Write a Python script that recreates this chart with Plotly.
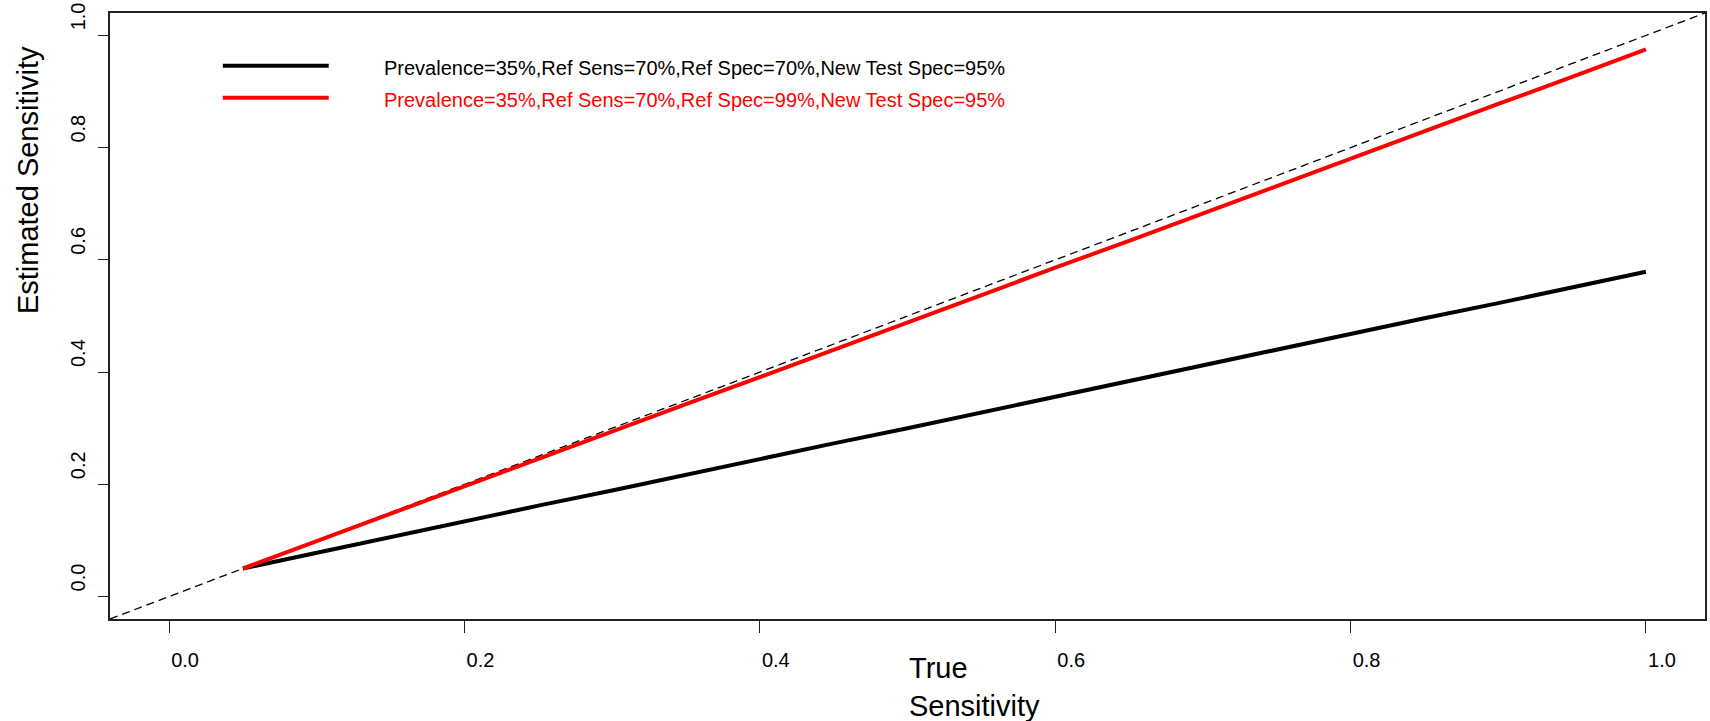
import plotly.graph_objects as go

# ---- data ----
true_sens = [0.05, 0.10, 0.15, 0.20, 0.25, 0.30, 0.35, 0.40, 0.45, 0.50,
             0.55, 0.60, 0.65, 0.70, 0.75, 0.80, 0.85, 0.90, 0.95, 1.00]
est_black = [0.050, 0.078, 0.107, 0.135, 0.162, 0.189, 0.217, 0.246, 0.273, 0.300,
             0.328, 0.356, 0.385, 0.412, 0.440, 0.468, 0.496, 0.523, 0.551, 0.579]
est_red = [0.050, 0.099, 0.148, 0.197, 0.246, 0.294, 0.343, 0.391, 0.440, 0.488,
           0.537, 0.586, 0.634, 0.683, 0.732, 0.781, 0.829, 0.878, 0.926, 0.975]
diag = [-0.04, 1.04]
tick_vals = [0.0, 0.2, 0.4, 0.6, 0.8, 1.0]
tick_text = ["0.0", "0.2", "0.4", "0.6", "0.8", "1.0"]
legend_labels = ["Prevalence=35%,Ref Sens=70%,Ref Spec=70%,New Test Spec=95%",
                 "Prevalence=35%,Ref Sens=70%,Ref Spec=99%,New Test Spec=95%"]
series_colors = ["#000000", "#ff0000"]

W, H = 1710, 721
L, R, T, B = 110, 3, 11, 102
PW, PH = W - L - R, H - T - B

def px(xp):
    return (xp - L) / PW

def py(yp):
    return (H - B - yp) / PH

FONT = "Liberation Sans, Arial, sans-serif"

fig = go.Figure()
fig.add_trace(go.Scatter(x=diag, y=diag, mode="lines",
                         line=dict(color="black", width=1.3, dash="8px,5px"),
                         showlegend=False, hoverinfo="skip"))
fig.add_trace(go.Scatter(x=true_sens, y=est_black, mode="lines",
                         line=dict(color=series_colors[0], width=4),
                         showlegend=False))
fig.add_trace(go.Scatter(x=true_sens, y=est_red, mode="lines",
                         line=dict(color=series_colors[1], width=4),
                         showlegend=False))

# manual legend (R style, no box)
shapes = []
annotations = []
for i, (lab, col) in enumerate(zip(legend_labels, series_colors)):
    yl = 64 + 32 * i
    shapes.append(dict(type="line", xref="paper", yref="paper",
                       x0=px(223), x1=px(329), y0=py(yl), y1=py(yl),
                       line=dict(color=col, width=4)))
    annotations.append(dict(text=lab, xref="paper", yref="paper",
                            x=px(382), y=py(yl + 2), xanchor="left", yanchor="middle",
                            showarrow=False, font=dict(family=FONT, size=20, color=col)))

# axis titles (left-anchored at plot centre, as in the reference)
annotations.append(dict(text="True<br>Sensitivity", xref="paper", yref="paper",
                        x=px(908), y=py(650), xanchor="left", yanchor="top", align="left",
                        showarrow=False, font=dict(family=FONT, size=29, color="black")))
annotations.append(dict(text="Estimated Sensitivity", xref="paper", yref="paper",
                        x=px(28), y=0.5, xanchor="center", yanchor="bottom", textangle=-90,
                        showarrow=False, font=dict(family=FONT, size=29, color="black")))

fig.update_layout(
    width=W, height=H,
    margin=dict(l=L, r=R, t=T, b=B, pad=0),
    paper_bgcolor="white", plot_bgcolor="white",
    shapes=shapes, annotations=annotations,
    showlegend=False,
    font=dict(family=FONT, size=20, color="black"),
)
fig.update_xaxes(range=[-0.04, 1.04], tickvals=tick_vals, ticktext=tick_text,
                 ticks="outside", ticklen=12, tickwidth=1, tickcolor="#222",
                 showline=True, linecolor="#222", linewidth=1.5, mirror=True,
                 showgrid=False, zeroline=False,
                 ticklabelshift=16, ticklabelstandoff=10, ticklabeloverflow="allow",
                 tickfont=dict(family=FONT, size=20, color="black"))
fig.update_yaxes(range=[-0.04, 1.04], tickvals=tick_vals, ticktext=tick_text,
                 ticks="outside", ticklen=10, tickwidth=1, tickcolor="#222",
                 showline=True, linecolor="#222", linewidth=1.5, mirror=True,
                 showgrid=False, zeroline=False, tickangle=-90,
                 ticklabelshift=-16, ticklabelstandoff=5, ticklabeloverflow="allow",
                 tickfont=dict(family=FONT, size=20, color="black"))

fig.write_html("out.html")
